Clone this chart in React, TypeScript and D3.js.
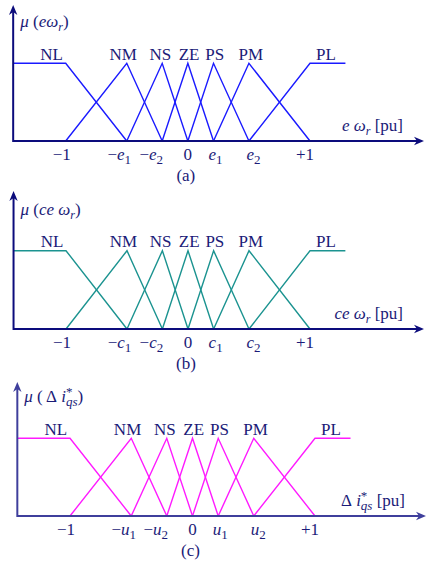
import React from "react";
import * as d3 from "d3";

// ---------- data ----------
const setNames = ["NL", "NM", "NS", "ZE", "PS", "PM", "PL"];
const peaks = [-1, -0.5, -0.21, 0, 0.21, 0.5, 1];
const axisMin = -1.43;
const plateauEnd = 1.29;

const ticksA = [["−1", ""], ["−e", "1"], ["−e", "2"], ["0", ""], ["e", "1"], ["e", "2"], ["+1", ""]];
const ticksB = [["−1", ""], ["−c", "1"], ["−c", "2"], ["0", ""], ["c", "1"], ["c", "2"], ["+1", ""]];
const ticksC = [["−1", ""], ["−u", "1"], ["−u", "2"], ["0", ""], ["u", "1"], ["u", "2"], ["+1", ""]];

// ---------- layout ----------
const nameX = [-1.115, -0.53, -0.225, 0.01, 0.22, 0.515, 1.13];
const tickDx = [-4, -7.5, -11, 0, 2, 4.5, -5];
const FONT = "Liberation Serif";
const TEXT = "#1b1b78";

function memberships() {
  return setNames.map((_, i) => {
    if (i === 0) return [[axisMin, 1], [peaks[0], 1], [peaks[1], 0]];
    if (i === setNames.length - 1)
      return [[peaks[i - 1], 0], [peaks[i], 1], [plateauEnd, 1]];
    return [[peaks[i - 1], 0], [peaks[i], 1], [peaks[i + 1], 0]];
  });
}

function arrowPath(tx: number, ty: number, dir: "up" | "right") {
  const L = 10, W = 4.2, N = 7;
  if (dir === "right")
    return `M${tx},${ty} L${tx - L},${ty - W} L${tx - N},${ty} L${tx - L},${ty + W} Z`;
  return `M${tx},${ty} L${tx - W},${ty + L} L${tx},${ty + N} L${tx + W},${ty + L} Z`;
}

type PanelProps = {
  xm1: number; xp1: number; y0: number; y1: number;
  yTop: number; xEnd: number;
  color: string; axisColor: string;
  ticks: string[][];
  letter: string;
  yLabel: React.ReactNode;
  xLabel: React.ReactNode;
};

function Panel(p: PanelProps) {
  const x = d3.scaleLinear().domain([-1, 1]).range([p.xm1, p.xp1]);
  const y = d3.scaleLinear().domain([0, 1]).range([p.y0, p.y1]);
  const line = d3.line<number[]>().x(d => x(d[0])).y(d => y(d[1]));
  const ax = x(axisMin);
  return (
    <g style={{ fontFamily: FONT }}>
      {memberships().map((m, i) => (
        <path key={i} d={line(m) || ""} fill="none" stroke={p.color} strokeWidth={1.4} />
      ))}
      <line x1={ax} y1={y(0)} x2={p.xEnd - 6} y2={y(0)} stroke={p.axisColor} strokeWidth={2} />
      <line x1={ax} y1={y(0) + 1} x2={ax} y2={p.yTop + 6} stroke={p.axisColor} strokeWidth={2} />
      <path d={arrowPath(p.xEnd, y(0), "right")} fill={p.axisColor} />
      <path d={arrowPath(ax, p.yTop, "up")} fill={p.axisColor} />
      {setNames.map((n, i) => (
        <text key={n} x={x(nameX[i])} y={y(1) - 3.5} textAnchor="middle" fontSize={17} fill={TEXT}>{n}</text>
      ))}
      {p.ticks.map((t, i) => (
        <text key={i} x={x(peaks[i]) + tickDx[i]} y={y(0) + 19} textAnchor="middle" fontSize={17} fill={TEXT}>
          {t[1] ? (
            <>
              {t[0].startsWith("−") ? <tspan>−</tspan> : null}
              <tspan fontStyle="italic">{t[0].replace("−", "")}</tspan>
              <tspan fontSize={13} dy={4}>{t[1]}</tspan>
            </>
          ) : t[0]}
        </text>
      ))}
      <text x={x(0) - 2} y={y(0) + 40} textAnchor="middle" fontSize={17} fill={TEXT}>{p.letter}</text>
      <g transform={`translate(${ax + 7},${y(1) - 36})`}>{p.yLabel}</g>
      <g transform={`translate(${p.xEnd - 21},${y(0) - 10})`}>{p.xLabel}</g>
    </g>
  );
}

const yLabA = (
  <text x={0} y={0} fontSize={17} fill={TEXT}>
    <tspan fontStyle="italic">μ</tspan> (<tspan fontStyle="italic">eω</tspan>
    <tspan fontStyle="italic" fontSize={12} dy={4}>r</tspan><tspan dy={-4}>)</tspan>
  </text>
);
const yLabB = (
  <text x={0} y={0} fontSize={17} fill={TEXT}>
    <tspan fontStyle="italic">μ</tspan> (<tspan fontStyle="italic">ce ω</tspan>
    <tspan fontStyle="italic" fontSize={12} dy={4}>r</tspan><tspan dy={-4}>)</tspan>
  </text>
);
const yLabC = (
  <text x={0} y={0} fontSize={17} fill={TEXT}>
    <tspan fontStyle="italic">μ</tspan> ( Δ<tspan fontStyle="italic"> i</tspan>
    <tspan fontSize={13} dy={-6}>*</tspan>
    <tspan fontStyle="italic" fontSize={13} dx={-6.5} dy={10}>qs</tspan><tspan dy={-4}>)</tspan>
  </text>
);
const xLabA = (
  <text x={0} y={0} fontSize={17} fill={TEXT} textAnchor="end">
    <tspan fontStyle="italic">e ω</tspan>
    <tspan fontStyle="italic" fontSize={12} dy={4}>r</tspan><tspan dy={-4}> [pu]</tspan>
  </text>
);
const xLabB = (
  <text x={0} y={0} fontSize={17} fill={TEXT} textAnchor="end">
    <tspan fontStyle="italic">ce ω</tspan>
    <tspan fontStyle="italic" fontSize={12} dy={4}>r</tspan><tspan dy={-4}> [pu]</tspan>
  </text>
);
const xLabC = (
  <text x={0} y={0} fontSize={17} fill={TEXT} textAnchor="end">
    Δ<tspan fontStyle="italic"> i</tspan>
    <tspan fontSize={13} dy={-6}>*</tspan>
    <tspan fontStyle="italic" fontSize={13} dx={-6.5} dy={10}>qs</tspan><tspan dy={-4}> [pu]</tspan>
  </text>
);

export default function App() {
  return (
    <svg width={426} height={563} style={{ position: "absolute", left: 0, top: 0, background: "#fff" }}>
      <Panel xm1={65.7} xp1={310} y0={141} y1={63.3} yTop={5} xEnd={424}
        color="#1a1aff" axisColor="#0c0c7c" ticks={ticksA} letter="(a)" yLabel={yLabA} xLabel={xLabA} />
      <Panel xm1={66} xp1={310} y0={329} y1={250.7} yTop={191} xEnd={424}
        color="#1b9390" axisColor="#0c0c7c" ticks={ticksB} letter="(b)" yLabel={yLabB} xLabel={xLabB} />
      <Panel xm1={70} xp1={315} y0={516} y1={438.3} yTop={382} xEnd={426}
        color="#ff1aff" axisColor="#3f3f9c" ticks={ticksC} letter="(c)" yLabel={yLabC} xLabel={xLabC} />
    </svg>
  );
}
